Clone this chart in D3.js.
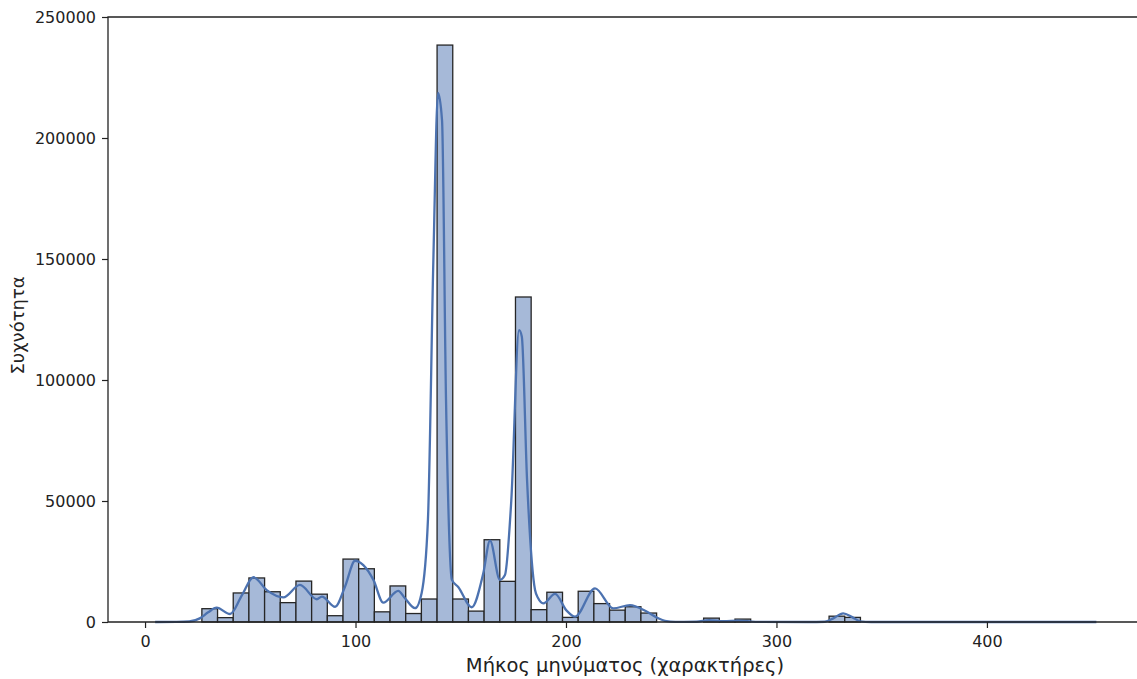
<!DOCTYPE html>
<html>
<head>
<meta charset="utf-8">
<script src="https://cdn.jsdelivr.net/npm/d3@7"></script>
<style>
  body { margin: 0; background: #fff; }
  text { font-family: "DejaVu Sans", sans-serif; fill: #222; }
</style>
</head>
<body>
<svg id="mySvg1" width="1137" height="679"></svg>
<script>
// histogram: first bin edge, bin width, counts per bin
var binStart = 27, binWidth = 7.45;
var counts = [5500, 1800, 12000, 18200, 12500, 8000, 16900, 11500, 2600, 26000,
  22000, 4200, 14900, 3500, 9500, 238400, 9500, 4500, 34000, 16800,
  134300, 5100, 12300, 1900, 12700, 7600, 4900, 6300, 3700, 0,
  0, 0, 1600, 500, 1200, 0, 0, 0, 0, 0,
  2400, 1900];

// kde curve
var kdeX = [4.8, 15, 21, 26, 30, 34, 40.4, 46, 51.5, 57.8, 65.7, 73.6, 81.6, 84, 90.3, 95, 99.8, 103.7,
  108.5, 113.2, 120.3, 123.5, 128.3, 131.4, 134.4, 137, 139.2, 141.1, 143, 145.8, 148.8, 155.2,
  160.7, 163.9, 168.6, 171, 174, 177.7, 179, 181.5, 185.3, 186.8, 189.2, 194.8, 200.3, 204.3,
  213.8, 222.5, 230.4, 238.3, 243.9, 247, 252, 262, 268, 275, 282, 290, 315, 323, 327, 331.7,
  336, 339.7, 345, 452];
var kdeY = [0, 50, 200, 1500, 4000, 5900, 3300, 11000, 18500, 13200, 10200, 15300, 9400, 10500, 6300, 14600, 25300, 23500,
  17400, 8000, 12900, 9800, 5700, 11900, 42000, 150000, 218600, 207400, 91700, 17400, 14500, 6100,
  20100, 33600, 17400, 19400, 50000, 120600, 118000, 58700, 13200, 9800, 7700, 11600, 4700, 2200,
  13900, 5600, 7000, 4300, 1500, 500, 50, 100, 800, 300, 600, 50, 0, 100, 1500, 3600,
  2000, 300, 0, 0];

var yTicks = [0, 50000, 100000, 150000, 200000, 250000];
var xTicks = [0, 100, 200, 300, 400];

var svg = d3.select("#mySvg1"),
  mLeft = 108, mRight = 1137, mTop = 17, mBottom = 622;

var xScale = d3.scaleLinear().domain([-17.6, 471.3]).range([mLeft, mRight]),
  yScale = d3.scaleLinear().domain([0, 250000]).range([mBottom, mTop]);

var bins = counts.map(function(c, i) {
  return { x0: binStart + i * binWidth, x1: binStart + (i + 1) * binWidth, n: c };
});

// bars
svg.append("g").selectAll("rect")
  .data(bins.filter(function(d) { return d.n > 0; }))
  .enter().append("rect")
  .attr("x", function(d) { return xScale(d.x0); })
  .attr("y", function(d) { return yScale(d.n); })
  .attr("width", function(d) { return xScale(d.x1) - xScale(d.x0); })
  .attr("height", function(d) { return yScale(0) - yScale(d.n); })
  .attr("fill", "#a6b9d8")
  .attr("stroke", "#262626")
  .attr("stroke-width", 1.3);

// kde line
var line = d3.line()
  .x(function(d) { return xScale(d[0]); })
  .y(function(d) { return yScale(d[1]); })
  .curve(d3.curveMonotoneX);

svg.append("path")
  .datum(kdeX.map(function(x, i) { return [x, kdeY[i]]; }))
  .attr("d", line)
  .attr("fill", "none")
  .attr("stroke", "#4c72b0")
  .attr("stroke-width", 2.3);

// axes
var xAxis = svg.append("g")
  .attr("transform", "translate(0," + mBottom + ")")
  .call(d3.axisBottom(xScale).tickValues(xTicks).tickSize(6).tickPadding(8).tickFormat(d3.format("d")));
var yAxis = svg.append("g")
  .attr("transform", "translate(" + mLeft + ",0)")
  .call(d3.axisLeft(yScale).tickValues(yTicks).tickSize(6).tickPadding(6).tickFormat(d3.format("d")));

[xAxis, yAxis].forEach(function(a) {
  a.select(".domain").remove();
  a.selectAll("line").attr("stroke", "#222").attr("stroke-width", 1.2);
  a.selectAll("text").style("font-size", "16px").style("font-family", "DejaVu Sans").attr("fill", "#222");
});

// frame (top, left, bottom; right edge is at the border)
svg.append("path")
  .attr("d", "M" + mRight + "," + mTop + "H" + mLeft + "V" + mBottom + "H" + mRight)
  .attr("fill", "none")
  .attr("stroke", "#222")
  .attr("stroke-width", 1.3);

svg.append("text")
  .attr("x", 625)
  .attr("y", 672)
  .attr("text-anchor", "middle")
  .style("font-size", "19.5px")
  .text("Μήκος μηνύματος (χαρακτήρες)");

svg.append("text")
  .attr("transform", "translate(24," + ((mTop + mBottom) / 2 + 6) + ") rotate(-90)")
  .attr("text-anchor", "middle")
  .style("font-size", "18px")
  .text("Συχνότητα");
</script>
</body>
</html>
